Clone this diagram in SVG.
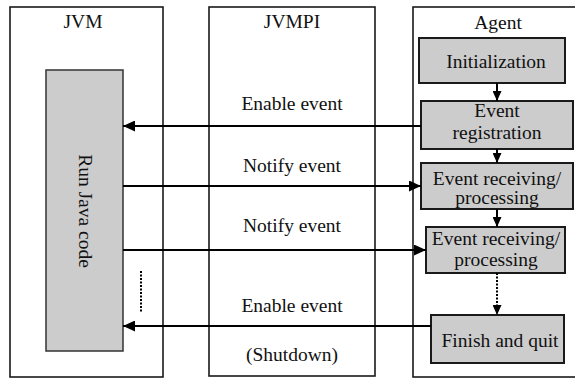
<svg xmlns="http://www.w3.org/2000/svg" width="575" height="379" viewBox="0 0 575 379">
  <defs>
    <style>
      .lane { fill: #ffffff; stroke: #1a1a1a; stroke-width: 1.6; }
      .step { fill: #cccccc; stroke: #1a1a1a; stroke-width: 2; }
      .code { fill: #cccccc; stroke: #333333; stroke-width: 1.5; }
      text { font-family: "Liberation Serif", "Times New Roman", serif; font-size: 19.5px; fill: #111111; text-anchor: middle; }
      .wire { fill: none; stroke: #000000; stroke-width: 2; }
      .dots { fill: none; stroke: #000000; stroke-width: 2; stroke-dasharray: 2 1.5; }
    </style>
    <marker id="head" markerUnits="userSpaceOnUse" markerWidth="12" markerHeight="11" refX="12" refY="5.5" orient="auto">
      <path d="M0,0 L12,5.5 L0,11 z" fill="#000000"/>
    </marker>
    <marker id="headSmall" markerUnits="userSpaceOnUse" markerWidth="10" markerHeight="9" refX="10" refY="4.5" orient="auto">
      <path d="M0,0 L10,4.5 L0,9 z" fill="#000000"/>
    </marker>
  </defs>

  <rect width="575" height="379" fill="#ffffff"/>

  <!-- JVM lane -->
  <g id="jvm">
    <rect class="lane" x="10" y="7" width="153" height="370"/>
    <text x="83" y="28">JVM</text>
  </g>

  <!-- JVMPI lane -->
  <g id="jvmpi">
    <rect class="lane" x="209" y="7" width="166" height="369"/>
    <text x="292" y="28">JVMPI</text>
  </g>

  <!-- Agent lane (runs off the right edge) -->
  <g id="agent">
    <rect class="lane" x="413" y="7" width="170" height="370"/>
    <text x="498" y="29">Agent</text>
  </g>

  <g id="run-java-code">
    <rect class="code" x="46" y="70" width="77" height="281"/>
    <text transform="translate(79,211) rotate(90)" x="0" y="0">Run Java code</text>
  </g>

  <g id="initialization">
    <rect class="step" x="419" y="38" width="146" height="45"/>
    <text x="496" y="68">Initialization</text>
  </g>

  <g id="event-registration">
    <rect class="step" x="421" y="101" width="152" height="48"/>
    <text x="497" y="117">Event</text>
    <text x="497" y="139">registration</text>
  </g>

  <g id="event-receiving-1">
    <rect class="step" x="421" y="163" width="152" height="46"/>
    <text x="497" y="185">Event receiving/</text>
    <text x="497" y="204">processing</text>
  </g>

  <g id="event-receiving-2">
    <rect class="step" x="426" y="227" width="139" height="46"/>
    <text x="496" y="245">Event receiving/</text>
    <text x="496" y="266">processing</text>
  </g>

  <g id="finish-and-quit">
    <rect class="step" x="431" y="315" width="133" height="48"/>
    <text x="500" y="347">Finish and quit</text>
  </g>

  <!-- Message labels -->
  <g id="labels">
    <text x="292" y="110">Enable event</text>
    <text x="292" y="172">Notify event</text>
    <text x="292" y="232">Notify event</text>
    <text x="292" y="312">Enable event</text>
    <text x="292" y="361">(Shutdown)</text>
  </g>

  <g id="connectors">
    <!-- calls between the agent and the JVM -->
    <line class="wire" x1="421" y1="126" x2="123" y2="126" marker-end="url(#head)"/>
    <line class="wire" x1="123" y1="186" x2="421" y2="186" marker-end="url(#head)"/>
    <line class="wire" x1="123" y1="250" x2="426" y2="250" marker-end="url(#head)"/>
    <line class="wire" x1="431" y1="326" x2="123" y2="326" marker-end="url(#head)"/>
    <!-- flow inside the agent -->
    <line class="wire" x1="497" y1="83" x2="497" y2="101" marker-end="url(#headSmall)"/>
    <line class="wire" x1="497" y1="149" x2="497" y2="163" marker-end="url(#headSmall)"/>
    <line class="wire" x1="497" y1="209" x2="497" y2="227" marker-end="url(#headSmall)"/>
    <line class="dots" x1="497" y1="273" x2="497" y2="315" marker-end="url(#headSmall)"/>
    <!-- elided activity in the JVM -->
    <line class="dots" x1="141" y1="271" x2="141" y2="312"/>
  </g>
</svg>
